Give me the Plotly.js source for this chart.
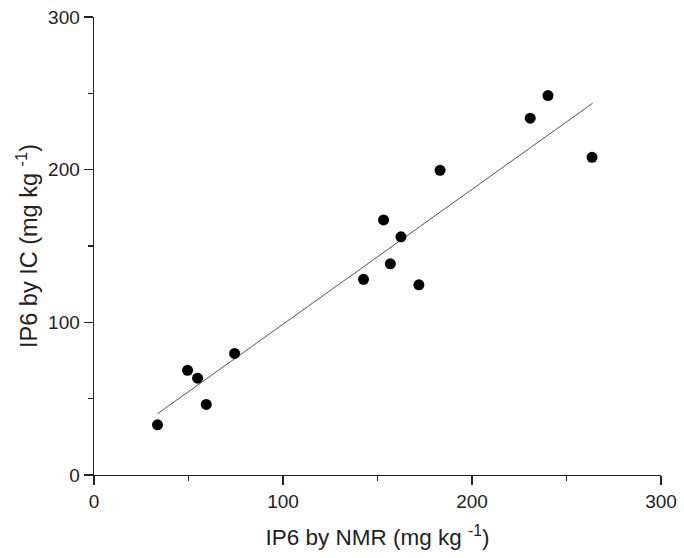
<!DOCTYPE html>
<html>
<head>
<meta charset="utf-8">
<script src="https://cdn.plot.ly/plotly-3.0.1.min.js"></script>
<style>html,body{margin:0;padding:0;background:#fff;}#chart{width:684px;height:558px;}</style>
</head>
<body>
<div id="chart"></div>
<script>
// IP6 by NMR (x) vs IP6 by IC (y), mg/kg
var nmrValues = [33.6, 49.5, 54.8, 59.4, 74.4, 142.6, 153.2, 156.8, 162.4, 171.9, 183.1, 230.8, 240.2, 263.5];
var icValues  = [32.9, 68.6, 63.4, 46.2, 79.6, 128.2, 167.1, 138.3, 156.0, 124.6, 199.6, 233.7, 248.5, 208.1];
// fitted line end points
var fitX = [33.6, 263.8];
var fitY = [40.1, 243.5];
var tickVals = [0, 100, 200, 300];
var tickText = ['0', '100', '200', '300'];
var minorVals = [50, 150, 250];
var xTitle = 'IP6 by NMR (mg kg <sup>-1</sup>)';
var yTitle = 'IP6 by IC (mg kg <sup>-1</sup>)';

var font = 'Liberation Sans, Arial, sans-serif';

var traces = [
  {x: fitX, y: fitY, mode: 'lines', type: 'scatter',
   line: {color: '#555555', width: 1}, hoverinfo: 'skip'},
  {x: nmrValues, y: icValues, mode: 'markers', type: 'scatter',
   marker: {color: '#000000', size: 11, line: {width: 0}}}
];

var axisCommon = {
  range: [0, 300], autorange: false,
  showgrid: false, zeroline: false,
  showline: true, linecolor: '#222', linewidth: 1.4,
  ticks: 'outside', ticklen: 9, tickwidth: 1.4, tickcolor: '#222',
  tickvals: tickVals, ticktext: tickText,
  tickfont: {family: font, size: 19, color: '#222'},
  minor: {tickvals: minorVals, ticks: 'outside', ticklen: 5, tickwidth: 1.4, tickcolor: '#222'},
  mirror: false
};

var layout = {
  width: 684, height: 558,
  paper_bgcolor: '#fff', plot_bgcolor: '#fff',
  showlegend: false,
  margin: {l: 94, r: 23, t: 17, b: 83},
  xaxis: Object.assign({}, axisCommon, {
    title: {text: xTitle, font: {family: font, size: 22.5, color: '#222'}, standoff: 18}
  }),
  yaxis: Object.assign({}, axisCommon, {
    title: {text: yTitle, font: {family: font, size: 23.5, color: '#222'}, standoff: 4}
  }),
  font: {family: font}
};

Plotly.newPlot('chart', traces, layout, {displayModeBar: false, staticPlot: true});
</script>
</body>
</html>
